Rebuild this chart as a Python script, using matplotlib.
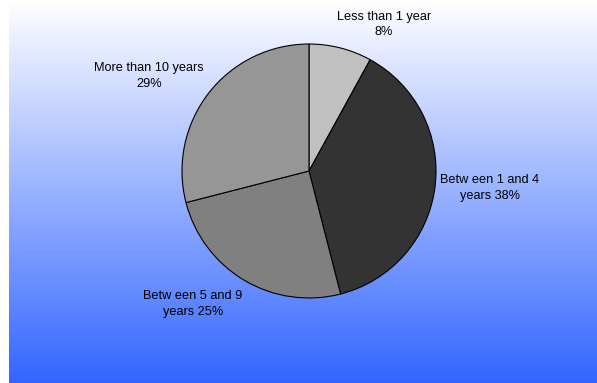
import numpy as np
import matplotlib
matplotlib.use("Agg")
import matplotlib.pyplot as plt
from matplotlib.colors import LinearSegmentedColormap

categories = ["Less than 1 year", "Between 1 and 4 years", "Between 5 and 9 years", "More than 10 years"]
values = [8, 38, 25, 29]
labels = ["Less than 1 year\n8%", "Betw een 1 and 4\nyears 38%", "Betw een 5 and 9\nyears 25%", "More than 10 years\n29%"]
colors = ["#C0C0C0", "#333333", "#808080", "#969696"]

plt.rcParams['font.family'] = ['Liberation Sans', 'DejaVu Sans']

W, H = 597, 383
fig = plt.figure(figsize=(W / 100, H / 100), dpi=100)
fig.patch.set_facecolor("white")

# gradient background
bg = fig.add_axes([9 / W, 0, 1 - 9 / W, 1])
bg.set_axis_off()
cmap = LinearSegmentedColormap.from_list("g", ["#FFFFFF", "#3366FF"])
grad = np.linspace(0, 1, 256).reshape(-1, 1)
bg.imshow(grad, aspect="auto", cmap=cmap, extent=[0, 1, 0, 1], origin="upper")

cx, cy, r = 309, 171, 127
ax = fig.add_axes([(cx - r) / W, (H - cy - r) / H, 2 * r / W, 2 * r / H])
ax.set_axis_off()
wedges, _ = ax.pie(values, colors=colors, startangle=90, counterclock=False,
                   radius=1, wedgeprops=dict(edgecolor="black", linewidth=0.8))
for w in wedges:
    w.set_clip_on(False)
ax.set_xlim(-1, 1)
ax.set_ylim(-1, 1)

label_pos = [(0.591, 1.154), (1.425, -0.134), (-0.913, -1.047), (-1.260, 0.748)]
for lab, (x, y) in zip(labels, label_pos):
    ax.text(x, y, lab, ha="center", va="center", fontsize=9.2, color="black",
            linespacing=1.35, clip_on=False)

fig.savefig("out.png", dpi=100)
